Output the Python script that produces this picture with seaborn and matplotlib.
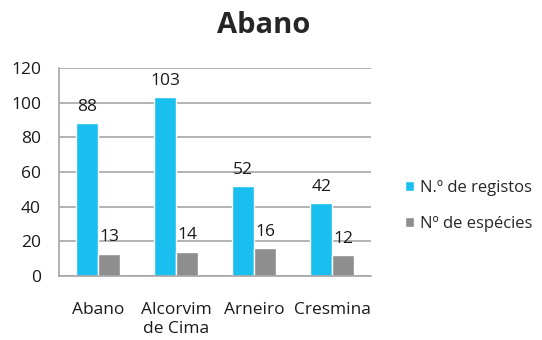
import matplotlib
matplotlib.use("Agg")
import matplotlib.pyplot as plt
import seaborn as sns
import pandas as pd

categories = ["Abano", "Alcorvim\nde Cima", "Arneiro", "Cresmina"]
registos = [88, 103, 52, 42]
especies = [13, 14, 16, 12]
series_names = ["N.º de registos", "Nº de espécies"]
colors = ["#19BFEF", "#8E8E8E"]

df = pd.DataFrame({
    "local": categories * 2,
    "valor": registos + especies,
    "serie": [series_names[0]] * 4 + [series_names[1]] * 4,
})

sns.set_style("white")
plt.rcParams["font.family"] = ["Open Sans", "DejaVu Sans"]

fig = plt.figure(figsize=(5.42, 3.4), dpi=100)
ax = fig.add_axes([0.109, 0.188, 0.576, 0.612])

sns.barplot(data=df, x="local", y="valor", hue="serie", palette=colors,
            width=0.565, gap=0, ax=ax, saturation=1, legend=True)

ax.set_ylim(0, 120)
ax.set_yticks(range(0, 121, 20))
ax.set_xlim(-0.5, 3.5)
ax.yaxis.grid(True, color="#A6A6A6", linewidth=1.2)
ax.set_axisbelow(True)
for s in ["top", "right"]:
    ax.spines[s].set_visible(False)
for s in ["left", "bottom"]:
    ax.spines[s].set_color("#A6A6A6")
    ax.spines[s].set_linewidth(1.2)
ax.tick_params(axis="y", length=0, labelsize=12.5, pad=13, labelcolor="#1A1A1A")
ax.tick_params(axis="x", length=0, pad=19)
ax.set_xticks(range(len(categories)))
ax.set_xticklabels(categories, fontsize=12.5, color="#1A1A1A", linespacing=1.2)
ax.set_xlabel("")
ax.set_ylabel("")

for cont in ax.containers:
    ax.bar_label(cont, labels=[f"{int(v)}" for v in cont.datavalues],
                 padding=6, fontsize=12.5, color="#1A1A1A")

ax.legend(loc="center left", bbox_to_anchor=(1.06, 0.335), frameon=False,
          fontsize=12, handlelength=0.55, handleheight=0.55, handletextpad=0.35,
          labelspacing=1.2)

fig.text(0.487, 0.924, "Abano", ha="center", va="center", fontsize=21,
         fontweight="bold")

fig.savefig("out.png", dpi=100)
